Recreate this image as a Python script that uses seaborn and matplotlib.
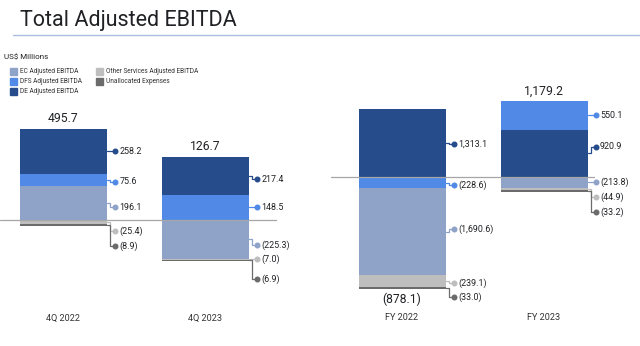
import matplotlib
matplotlib.use("Agg")
import matplotlib.pyplot as plt
import seaborn as sns
import numpy as np
import pandas as pd
from matplotlib.lines import Line2D
from matplotlib.patches import Rectangle
from matplotlib.transforms import IdentityTransform

# ---------------- data ----------------
series = ["EC Adjusted EBITDA", "DFS Adjusted EBITDA", "DE Adjusted EBITDA",
          "Other Services Adjusted EBITDA", "Unallocated Expenses"]
colors = ["#8FA3C9", "#508AE6", "#264C8B", "#BEBEBE", "#6B6B6B"]

quarters = ["4Q 2022", "4Q 2023"]
q_ec = [196.1, -225.3]
q_dfs = [75.6, 148.5]
q_de = [258.2, 217.4]
q_other = [-25.4, -7.0]
q_unalloc = [-8.9, -6.9]
q_total = [495.7, 126.7]

years = ["FY 2022", "FY 2023"]
fy_ec = [-1690.6, -213.8]
fy_dfs = [-228.6, 550.1]
fy_de = [1313.1, 920.9]
fy_other = [-239.1, -44.9]
fy_unalloc = [-33.0, -33.2]
fy_total = [-878.1, 1179.2]

# ---------------- layout ----------------
W, H = 640, 346
stack_order = {"FY 2022": [1, 0, 2, 3, 4],          # DFS directly below zero
               "FY 2023": [0, 2, 1, 3, 4]}          # DE under DFS
label_nudge = {                                      # px, + = down (series order)
    "4Q 2022": [4, 1.7, 0, 8.7, 21],
    "4Q 2023": [5.7, 0, 3.4, 0, 19],
    "FY 2022": [-2.3, 2.5, 1, 1.8, 8.8],
    "FY 2023": [0, 0, -6.5, 8, 21],
}
BAR_W = 87 / 142

sns.set_theme(style="white")
plt.rcParams['font.family'] = ['Roboto', 'DejaVu Sans']
TXT = "#202124"

fig = plt.figure(figsize=(W / 100, H / 100), dpi=100)


def fmt(v):
    s = f"{abs(v):,.1f}"
    return f"({s})" if v < 0 else s


def px_axes(x0, y0, x1, y1):
    return fig.add_axes([x0 / W, 1 - y1 / H, (x1 - x0) / W, (y1 - y0) / H])


def panel(ax, cats, vals, totals, xlim, ylim):
    n = len(cats)
    bottoms = [[0.0] * n for _ in series]
    pos_top, neg_bot = [0.0] * n, [0.0] * n
    for j, c in enumerate(cats):
        p = ng = 0.0
        for i in stack_order.get(c, range(len(series))):
            v = vals[i][j]
            if v >= 0:
                bottoms[i][j] = p
                p += v
            else:
                bottoms[i][j] = ng
                ng += v
        pos_top[j], neg_bot[j] = p, ng
    for i, s in enumerate(series):
        df = pd.DataFrame({"cat": cats, "val": vals[i]})
        sns.barplot(data=df, x="cat", y="val", order=cats, color=colors[i],
                    saturation=1, width=BAR_W, errorbar=None, bottom=bottoms[i],
                    linewidth=0, ax=ax, zorder=2)
    ax.set_xlim(*xlim)
    ax.set_ylim(*ylim)
    ax.axis("off")
    ax.axhline(0, color="#A6A6A6", lw=0.9, zorder=3)
    fig.canvas.draw()
    tr = ax.transData
    for j, c in enumerate(cats):
        total = totals[j]
        if total >= 0:
            x_px, y_px = tr.transform((j, pos_top[j]))
            fig.text(x_px / W, (y_px + 4) / H, fmt(total), ha="center", va="bottom",
                     fontsize=8.7, color=TXT)
        else:
            x_px, y_px = tr.transform((j, neg_bot[j]))
            fig.text(x_px / W, (y_px - 4) / H, fmt(total), ha="center", va="top",
                     fontsize=8.7, color=TXT)
        x_px, _ = tr.transform((j, 0))
        fig.text(x_px / W, 1 - 318 / H, c, ha="center", va="center",
                 fontsize=6.6, color="#333333")
        for i in range(len(series)):
            v = vals[i][j]
            yc = bottoms[i][j] + v / 2
            xr, yc_px = tr.transform((j + BAR_W / 2, yc))
            ye = yc_px - label_nudge[c][i]
            fig.add_artist(Line2D([xr, xr + 3, xr + 3, xr + 8], [yc_px, yc_px, ye, ye],
                                  transform=IdentityTransform(), color=colors[i],
                                  lw=0.9, zorder=4))
            fig.add_artist(Line2D([xr + 8], [ye], marker="o", ms=3.3, color=colors[i],
                                  transform=IdentityTransform(), zorder=5))
            fig.text((xr + 12.5) / W, ye / H, fmt(v), ha="left", va="center",
                     fontsize=6.4, color=TXT)


# left panel: bar centres at 63.5 and 205.5 px, zero at y=220 px, 0.171 px/unit
axL = px_axes(0, 60, 277, 320)
panel(axL, quarters, [q_ec, q_dfs, q_de, q_other, q_unalloc], q_total,
      (-63.5 / 142, (277 - 63.5) / 142), (-(320 - 220) / 0.171, (220 - 60) / 0.171))

# right panel: bar centres at 402 and 544 px, zero at y=176.7 px, 0.0512 px/unit
axR = px_axes(331, 60, 595, 320)
panel(axR, years, [fy_ec, fy_dfs, fy_de, fy_other, fy_unalloc], fy_total,
      ((331 - 402) / 142, (595 - 402) / 142),
      (-(320 - 176.7) / 0.0512, (176.7 - 60) / 0.0512))

# title & rule
fig.text(20 / W, 1 - 26 / H, "Total Adjusted EBITDA", ha="left", va="baseline",
         fontsize=15.5, color=TXT)
fig.add_artist(Line2D([13 / W, 1], [1 - 35.3 / H] * 2, transform=fig.transFigure,
                      color="#A9BEE0", lw=1))

# units + legend
fig.text(4 / W, 1 - 57 / H, "US$ Millions", ha="left", va="center", fontsize=5.8,
         color=TXT)
leg_pos = [(10, 71.3), (10, 81.5), (10, 91.7), (96, 71.3), (96, 81.5)]
for i, s in enumerate(series):
    px, py = leg_pos[i]
    fig.add_artist(Rectangle((px / W, 1 - (py + 3.5) / H), 7 / W, 7 / H,
                             transform=fig.transFigure, color=colors[i]))
    fig.text((px + 10) / W, 1 - py / H, s, ha="left", va="center", fontsize=4.7,
             color="#333333")

fig.savefig("out.png", dpi=100)
